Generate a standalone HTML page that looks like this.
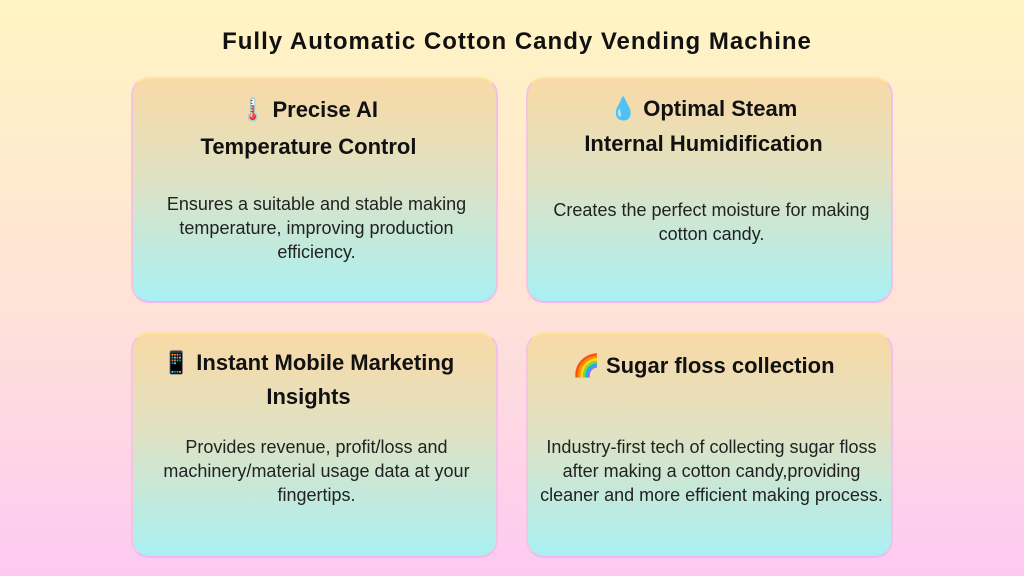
<!DOCTYPE html>
<html><head><meta charset="utf-8"><style>
*{margin:0;padding:0;box-sizing:border-box}
body{width:1024px;height:576px;overflow:hidden;position:relative;font-family:"Liberation Sans",sans-serif;background:linear-gradient(180deg,#fff4c2 0%,#ffe4d6 50%,#fdc9f2 100%)}
.t{position:absolute;left:5px;width:1024px;top:28px;text-align:center;font-weight:bold;font-size:24px;letter-spacing:1px;color:#111}
.b{position:absolute;width:367px;height:226px;border-radius:18px;border:2px solid;border-color:#ffe3a0 #f5c0e8 #f6b5ef #f6c4e0;background:linear-gradient(180deg,#f9d9a6 0%,#dfe2c3 45%,#a9f0f3 100%);}
.h{position:absolute;left:-6px;width:100%;text-align:center;font-weight:bold;font-size:22px;color:#111;line-height:37px}
.p{position:absolute;left:-25px;width:417px;text-align:center;font-size:18px;color:#222;line-height:24px}
</style></head><body>
<div class="t">Fully Automatic Cotton Candy Vending Machine</div>
<div class="b" style="left:131px;top:77px">
<div class="h" style="top:12px">🌡️ Precise AI<br>Temperature Control</div>
<div class="p" style="top:113px">Ensures a suitable and stable making<br>temperature, improving production<br>efficiency.</div></div>
<div class="b" style="left:526px;top:77px">
<div class="h" style="top:12px;line-height:35px">💧 Optimal Steam<br>Internal Humidification</div>
<div class="p" style="top:119px">Creates the perfect moisture for making<br>cotton candy.</div></div>
<div class="b" style="left:131px;top:332px">
<div class="h" style="top:12px;line-height:34px">📱 Instant Mobile Marketing<br>Insights</div>
<div class="p" style="top:101px">Provides revenue, profit/loss and<br>machinery/material usage data at your<br>fingertips.</div></div>
<div class="b" style="left:526px;top:332px">
<div class="h" style="top:13px">🌈 Sugar floss collection</div>
<div class="p" style="top:101px">Industry-first tech of collecting sugar floss<br>after making a cotton candy,providing<br>cleaner and more efficient making process.</div></div>
</body></html>
